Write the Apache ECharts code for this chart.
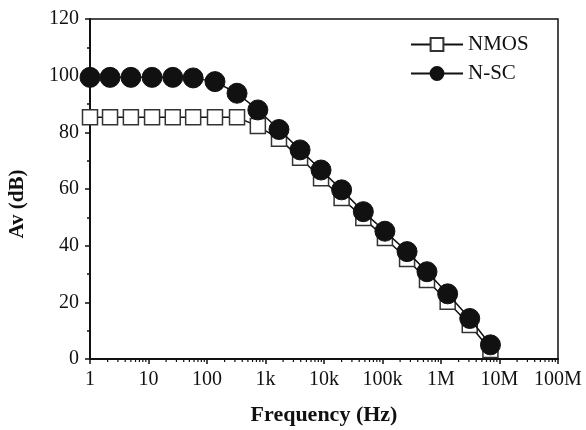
<!DOCTYPE html>
<html>
<head>
<meta charset="utf-8">
<script src="https://cdn.jsdelivr.net/npm/echarts@6/dist/echarts.min.js"></script>
<style>
  html, body { margin: 0; padding: 0; background: #fff; }
  #main { width: 586px; height: 430px; }
</style>
</head>
<body>
<div id="main"></div>
<script>
// frequency points (Hz)
var freq = [1, 2.2, 5, 11.5, 26, 58, 137, 326, 740, 1700, 3900, 8900, 20000, 47000,
            110000, 263000, 576000, 1300000, 3100000, 7000000];
var nmos = [85.3, 85.3, 85.3, 85.3, 85.3, 85.3, 85.3, 85.3, 82.2, 77.7, 71.0, 63.8,
            56.8, 49.8, 42.7, 35.3, 27.9, 20.2, 12.0, 3.2];
var nsc = [99.4, 99.4, 99.4, 99.4, 99.4, 99.2, 97.9, 93.8, 87.9, 81.0, 73.8, 66.7,
           59.7, 52.0, 45.1, 37.9, 30.8, 23.0, 14.3, 5.0];
var seriesNames = ['NMOS', 'N-SC'];
// log minor ticks: 2..9 in every decade
var minorMantissa = [2, 3, 4, 5, 6, 7, 8, 9];
var decades = [1, 10, 100, 1e3, 1e4, 1e5, 1e6, 1e7];

var serif = '"Liberation Serif", "DejaVu Serif", serif';

function pairs(xs, ys) {
    return xs.map(function (x, i) { return [x, ys[i]]; });
}

var minorTicks = [];
decades.forEach(function (d) {
    minorMantissa.forEach(function (m) { minorTicks.push([m * d, 0]); });
});

function freqLabel(v) {
    if (v >= 1e6) return Math.round(v / 1e6) + 'M';
    if (v >= 1e3) return Math.round(v / 1e3) + 'k';
    return String(Math.round(v));
}

var chart = echarts.init(document.getElementById('main'));
chart.setOption({
    animation: false,
    backgroundColor: '#fff',
    grid: {
        left: 90,
        right: 28,
        top: 19,
        bottom: 71,
        outerBoundsMode: 'none',
        show: true,
        borderColor: '#111',
        borderWidth: 1.5,
    },
    legend: {
        data: seriesNames,
        orient: 'vertical',
        left: 405,
        top: 29,
        itemWidth: 52,
        itemHeight: 16,
        itemGap: 8,
        textStyle: {
            fontFamily: serif,
            fontSize: 21,
            color: '#111',
        }
    },
    xAxis: {
        type: 'log',
        logBase: 10,
        min: 1,
        max: 1e8,
        splitNumber: 8,
        name: 'Frequency (Hz)',
        nameLocation: 'middle',
        nameGap: 45,
        nameTextStyle: {
            fontFamily: serif,
            fontSize: 22,
            fontWeight: 'bold',
            color: '#111',
        },
        axisLine: { lineStyle: { color: '#111', width: 2 } },
        axisTick: { show: true, length: 5, lineStyle: { color: '#111', width: 1.5 } },
        splitLine: { show: false },
        axisLabel: {
            margin: 11,
            fontFamily: serif,
            fontSize: 20,
            color: '#111',
            formatter: freqLabel,
        },
    },
    yAxis: {
        type: 'value',
        min: 0,
        max: 120,
        interval: 20,
        name: 'Av (dB)',
        nameLocation: 'middle',
        nameGap: 62,
        nameTextStyle: {
            fontFamily: serif,
            fontSize: 21,
            fontWeight: 'bold',
            color: '#111',
            padding: [0, 0, 0, -30],
        },
        axisLine: { show: true, lineStyle: { color: '#111', width: 2 } },
        axisTick: { show: true, length: 5, lineStyle: { color: '#111', width: 1.5 } },
        minorTick: { show: true, splitNumber: 2, length: 3, lineStyle: { color: '#111', width: 1.5 } },
        splitLine: { show: false },
        axisLabel: {
            margin: 11,
            fontFamily: serif,
            fontSize: 20,
            color: '#111',
        },
    },
    series: [
        {
            name: 'NMOS',
            type: 'line',
            data: pairs(freq, nmos),
            symbol: 'rect',
            symbolSize: 15,
            lineStyle: { color: '#111', width: 1.5 },
            itemStyle: { color: '#fff', borderColor: '#333', borderWidth: 1.5 },
            z: 2,
        },
        {
            name: 'N-SC',
            type: 'line',
            data: pairs(freq, nsc),
            symbol: 'circle',
            symbolSize: 20,
            lineStyle: { color: '#111', width: 1.5 },
            itemStyle: { color: '#111', borderColor: '#111', borderWidth: 1 },
            z: 3,
        },
        {
            // minor ticks of the log axis
            name: 'minor',
            type: 'custom',
            silent: true,
            clip: false,
            data: minorTicks,
            renderItem: function (params, api) {
                var p = api.coord([api.value(0), 0]);
                return {
                    type: 'line',
                    shape: { x1: p[0], y1: p[1], x2: p[0], y2: p[1] + 3 },
                    style: { stroke: '#111', lineWidth: 1.2 },
                };
            },
        }
    ]
});
</script>
</body>
</html>
